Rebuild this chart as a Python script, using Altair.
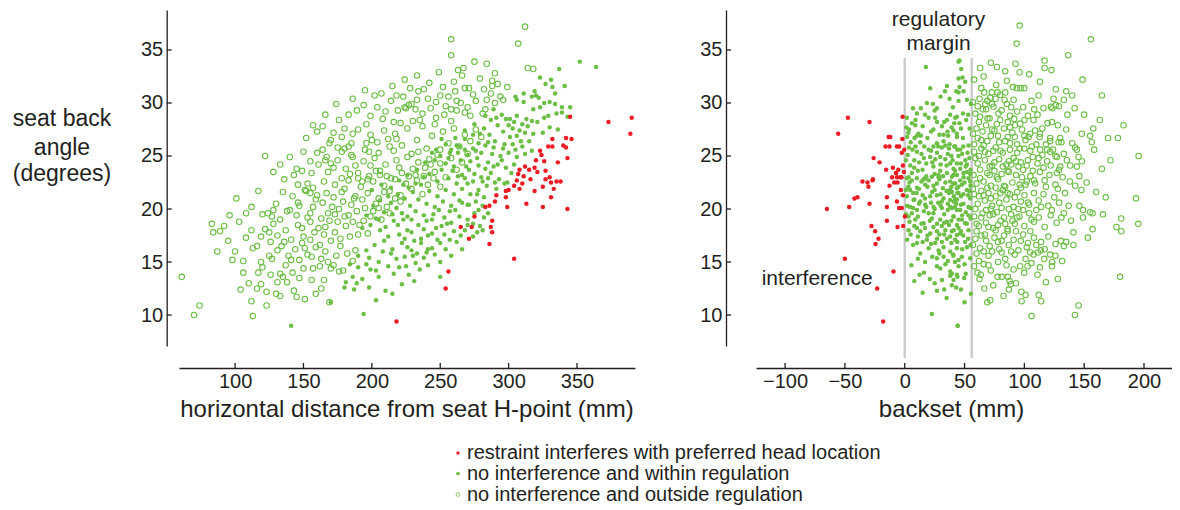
import altair as alt
import pandas as pd

RED = "#ed1c24"
GREEN = "#6cbe45"
TXT = "#231f20"
FONT = "Liberation Sans"

# ---------------- data ----------------
# left panel: horizontal distance from seat H-point (mm), seat back angle (deg)
left_red = [(373,28.2),(390,28.6),(389,27.1),(345,28.7),(332,26.6),(342,26.7),(346,26.6),(323,25.5),(324,25.1),(329,25.9),
    (332,25.9),(340,26.0),(342,25.8),(343,24.8),(320,24.6),(326,24.5),(336,24.4),(312,24.0),(319,23.9),(321,23.5),(327,23.6),
    (307,23.3),(311,23.1),(306,22.7),(316,22.8),(310,22.4),(327,22.8),(308,23.7),(315,23.7),(330,23.0),(335,22.6),(304,22.2),
    (300,21.8),(308,21.9),(298,21.7),(291,21.3),(290,20.7),(298,21.1),(299,20.2),(283,20.2),(286,20.3),(313,20.5),(319,21.7),
    (325,22.1),(331,22.5),(333,21.9),(331,21.1),(325,20.2),(338,22.6),(343,20.0),(275,19.3),(288,18.9),(287,18.3),(288,17.8),
    (265,18.3),(273,18.3),(271,17.2),(286,16.7),(304,15.3),(256,14.1),(254,12.5),(218,9.4)]

left_within = [(352,33.9),(364,33.4),(337,33.2),(323,32.4),(327,31.8),(331,32.2),(332,31.5),(334,30.9),(319,31.1),(320,30.7),
    (341,31.6),(305,30.6),(311,30.9),(317,30.6),(322,30.5),(311,30.1),(306,30.3),(326,30.0),(330,30.1),(334,29.9),(323,29.6),
    (318,29.4),(339,29.6),(345,29.6),(295,28.9),(301,28.5),(306,28.8),(313,28.5),(317,28.3),(329,28.8),(335,29.0),(339,29.1),
    (343,28.7),(300,27.9),(303,27.6),(308,27.4),(296,27.3),(301,26.8),(306,26.9),(312,27.2),(318,27.1),(325,27.2),(330,27.7),
    (336,27.5),(315,26.4),(310,25.9),(305,25.6),(297,26.1),(290,26.4),(286,27.0),(282,27.6),(278,26.2),(274,25.7),(268,26.6),
    (264,25.9),(270,25.1),(280,25.3),(288,25.2),(294,25.0),(300,25.3),(306,24.9),(312,25.2),(317,25.5),(285,24.4),(292,24.2),
    (298,23.9),(304,24.2),(278,24.1),(271,23.7),(266,23.2),(260,24.0),(256,24.8),(251,23.7),(246,24.6),(242,23.3),(248,22.6),
    (256,22.9),(262,22.4),(268,22.9),(274,22.6),(280,23.0),(287,23.4),(293,22.8),(299,22.5),(284,22.2),(278,21.8),(291,21.9),
    (272,21.4),(266,21.9),(260,21.4),(254,21.8),(248,21.2),(242,21.7),(236,22.3),(230,21.6),(234,20.9),(240,20.5),(246,20.2),
    (252,20.7),(258,20.3),(264,20.8),(270,20.4),(276,20.7),(282,21.1),(224,21.0),(228,20.3),(222,19.6),(216,18.9),(218,20.1),
    (226,19.3),(232,19.8),(238,19.4),(244,19.0),(251,18.4),(255,18.6),(258,18.7),(264,19.3),(268,18.0),(278,19.9),(275,19.6),
    (271,20.4),(223,19.0),(229,19.0),(234,18.5),(240,18.9),(214,20.6),(209,19.7),(203,19.1),(206,18.0),(212,17.4),(220,17.6),
    (226,18.0),(229,17.8),(222,16.8),(226,16.4),(229,16.1),(236,17.2),(236,16.8),(241,17.5),(244,17.7),(248,17.1),(253,17.6),
    (260,17.9),(262,16.9),(254,16.2),(246,15.7),(240,15.9),(233,15.8),(230,15.6),(224,15.5),(218,15.3),(212,14.6),(205,15.0),
    (198,15.4),(199,14.3),(193,13.4),(186,13.6),(181,13.1),(190,14.5),(196,16.1),(202,16.6),(209,17.0),(215,16.2),(225,14.6),
    (227,13.8),(241,14.7),(235,14.3),(210,12.3),(180,12.6),(187,12.4),(194,10.1),(141,9.0),(170,11.2),(200,21.8),(207,22.3),
    (214,22.0),(220,22.7),(226,23.2),(233,23.7),(239,24.4),(247,25.6),(254,26.1),(261,26.7),(268,27.4),(275,28.0),(283,28.8),
    (289,29.4),(292,27.9),(287,28.4),
    (245,19.5),(249,19.9),(253,19.2),(257,19.8),(261,19.9),(266,20.6),(270,19.0),(274,18.6),(279,18.4),(282,19.2),(285,19.6),
    (281,20.3),(277,21.4),(270,22.4),(263,23.1),(259,23.6),(254,24.3),(250,25.0),(258,25.6),(265,24.6),(272,24.5),(277,24.8),
    (283,23.8),(289,24.0),(295,24.6),(302,23.4),(297,22.4),(290,22.5),(285,22.9),(281,22.6),(275,23.3),(269,24.0),(263,25.3),
    (268,25.6),(276,25.5),(283,26.0),(289,25.8),(296,25.7),(303,26.1),(309,26.4),(314,27.8),(321,28.2),(326,28.6),(310,28.0),
    (304,28.2),(298,28.5),(291,28.6),(285,26.3),(279,27.1),(274,27.0),(262,26.0),(257,25.3),(251,26.6),(244,25.3),(238,23.0),
    (232,22.4),(227,22.0),(223,22.3),(219,21.4),(212,21.2),(206,20.8),(201,20.3),(196,19.4),(193,18.2),(199,18.5),(205,19.0),
    (210,18.3),(215,19.5),(219,18.5),(224,17.2),(231,17.0),(238,18.1),(247,18.2),(250,16.8),(257,17.1),(265,17.5),(270,18.5),
    (277,17.8),(281,18.0),(274,17.4),(266,16.2),(258,15.6),(250,15.0),(244,16.3),(238,15.4),(232,14.9),(220,14.5),(214,15.8),
    (208,16.0),(203,14.2),(196,14.8),(190,15.6),(184,14.8),(189,13.0),(198,12.6),(205,13.6),(216,13.9),(222,12.9),(231,13.2),
    (215,12.0),(203,11.4),(241,16.2),(250,13.6)]

left_outside = [(312,37.2),(258,36.0),(307,35.6),(258,34.5),(275,33.9),(284,33.7),(263,33.1),(267,33.3),(314,33.3),(318,33.2),
    (224,32.2),(202,30.7),(218,30.7),(225,29.5),(227,29.8),(260,32.0),(290,32.8),(288,32.1),(288,31.6),(268,31.4),(271,31.4),
    (234,31.1),(238,31.3),(282,31.3),(294,30.6),(299,31.5),(250,30.7),(241,30.4),(284,30.3),(290,30.0),(262,30.2),(276,30.2),
    (254,29.7),(243,29.5),(258,29.4),(224,29.6),(229,29.9),(232,29.4),(235,28.4),(216,28.2),(221,28.1),(281,29.0),(272,28.8),
    (262,29.3),(247,28.6),(253,28.9),(268,29.1),(157,27.9),(180,27.6),(186,27.1),(152,26.7),(169,26.2),(122,25.0),(145,23.8),
    (164,25.6),(180,25.7),(178,25.4),(183,25.9),(167,24.9),(170,24.3),(166,24.6),(200,26.5),(204,26.3),(212,26.6),(218,26.6),
    (196,26.2),(172,27.2),(178,26.8),(185,26.2),(190,27.5),(195,25.6),(199,27.0),(205,25.3),(209,27.4),(213,25.9),(217,27.1),
    (222,26.0),(226,27.6),(229,25.2),(233,26.5),(237,27.8),(240,25.7),(244,26.9),(248,25.1),(252,27.3),(256,26.2),(260,27.6),
    (264,25.9),(268,27.0),(272,26.4),(276,27.5),(280,26.8),(246,28.0),(258,28.3),(230,28.3),(208,28.5),(196,28.0),(175,24.6),
    (181,23.8),(186,24.9),(190,23.4),(194,24.5),(198,23.1),(202,24.8),(206,23.6),(210,24.2),(214,22.9),(218,24.6),(222,23.4),
    (226,24.9),(230,23.8),(234,24.4),(238,23.1),(242,24.7),(246,23.5),(250,24.3),(254,23.0),(258,24.8),(262,23.7),(266,24.4),
    (270,25.2),(250,25.6),(234,25.4),(216,25.5),(198,25.4),(185,25.1),(173,22.3),(178,21.6),(183,22.7),(188,21.2),(192,22.1),
    (197,21.5),(201,22.6),(205,21.0),(209,22.2),(213,21.7),(217,22.8),(221,21.3),(225,22.4),(229,21.9),(233,22.7),(237,21.4),
    (241,22.3),(245,22.9),(250,22.1),(206,23.2),(190,22.9),(142,21.2),(147,20.3),(151,21.8),(155,19.6),(159,20.9),(163,19.1),
    (167,21.5),(171,20.2),(175,18.8),(179,20.7),(183,19.4),(187,21.0),(191,18.5),(195,20.1),(199,19.3),(203,20.5),(207,19.0),
    (211,20.2),(157,22.0),(165,22.6),(146,22.3),(135,21.6),(138,19.8),(130,20.5),(152,21.7),(146,20.6),(155,21.5),(153,22.4),
    (140,19.9),(133,19.0),(137,18.0),(141,17.1),(149,16.8),(146,18.5),(150,17.4),(134,16.5),(61,13.6),(74,10.9),(70,10.0),
    (101,21.0),(83,18.6),(84,17.8),(92,18.4),(89,17.9),(108,17.3),(106,15.1),(113,9.9),(112,11.3),(117,14.0),(119,15.0),
    (120,14.5),(116,16.5),(119,17.4),(122,18.1),(125,17.8),(126,16.9),(120,19.5),(127,19.3),(128,19.9),(124,19.6),(125,15.6),
    (127,15.3),(123,12.2),(130,12.0),(133,11.8),(131,13.1),(133,13.9),(135,13.6),(139,15.6),(141,15.2),(137,14.7),(143,12.3),
    (145,11.7),(151,11.5),(147,13.5),(163,12.5),(169,11.2),(156,13.3),(165,13.3),(153,15.7),(156,15.5),(163,15.3),(170,14.4),
    (172,14.7),(168,15.0),(179,14.2),(100,16.0),(113,16.3),(106,14.0),(110,13.0),(116,12.5),(95,17.0),(103,18.8),(112,18.0),
    (131,17.5),(158,17.8),(162,16.6),(170,17.0),(177,16.5),(184,17.4),(188,16.1),(155,18.8),(166,18.3),(173,19.5),(181,18.4),
    (176,28.4),(183,28.9),(189,29.3),(194,29.8),(199,28.8),(204,29.6),(210,29.2),(214,30.2),(219,29.3),(223,30.6),(228,31.4),
    (233,30.3),(237,29.0),(242,31.9),(247,30.1),(252,31.5),(256,30.6),(261,31.1),(265,30.0),(270,29.6),(274,30.8),(279,32.3),
    (283,29.4),(287,30.9),(292,31.8),(296,30.3),(266,32.6),(249,32.9),(233,32.6),(215,31.6),(207,30.9),(195,31.2),(186,30.4),
    (174,29.9),(166,28.9),(160,27.3),(164,27.8),(170,26.5),(175,25.8),(160,25.3),(155,24.5),(150,25.4),(140,24.9),(133,24.2),
    (128,23.5),(136,22.8),(143,23.2),(149,23.6),(156,23.4),(161,24.2),(168,23.5),(172,23.9),(178,22.9),(184,23.3),(188,24.1),
    (193,22.6),(199,24.1),(203,23.6),(211,23.1),(220,23.9),(227,23.1),(232,23.2),(239,23.9),(243,24.2),(160,21.3),(164,20.6),
    (168,19.6),(172,21.1),(176,20.0),(180,21.9),(185,20.4),(189,19.8),(193,20.9),(197,22.8),(201,19.8),(205,20.1),(209,21.6),
    (213,19.6),(217,21.0),(221,20.7),(161,18.2),(165,17.6),(169,18.9),(173,17.8),(177,17.2),(180,19.3),(186,18.8),(190,17.6),
    (194,18.9),(197,17.7),(145,19.4),(149,18.2),(153,19.2),(157,20.2),(144,16.2),(147,15.2),(151,16.3),(155,17.1),(159,16.4),
    (162,14.6),(166,16.0),(174,15.6),(176,14.1),(182,15.8),(186,15.1),(128,18.6),(131,16.1),(136,16.9),(138,13.1),(142,14.0),
    (112,20.2),(117,21.7),(108,19.6),(96,19.4),(87,16.0),(98,15.2),(104,12.4),(119,12.9),(126,13.8),(123,10.9),(159,12.0),
    (150,14.4),(157,14.4)]

# right panel: backset (mm), seat back angle (deg)
right_red = [(-65,20.0),(-46.4,20.2),(-42,21.0),(-39.5,21.1),(-35.3,22.6),(-31.1,22.5),(-26.9,22.7),(-30.3,22.1),(-29.4,20.5),
    (-14.9,21.1),(-14.9,20.2),(-14.9,18.9),(-12.7,22.2),(-6.5,20.7),(-4.7,20.1),(-2.4,20.1),(-6,18.3),(-1.3,18.4),(0.2,19.3),
    (-8.8,22.5),(-6,22.5),(-3.8,23.0),(-7.1,23.4),(-1.5,21.3),(-3.2,21.8),(-27.8,18.4),(-24.7,17.9),(-21.9,17.2),(-24.4,16.7),
    (-50,15.3),(-9.4,14.1),(-23,12.5),(-18,9.4),(-47.5,28.6),(-29.4,28.2),(-55.6,27.1),(-1.8,28.7),(-13.4,26.8),(-12,26.8),
    (-16,25.9),(-12.7,25.9),(-6.5,25.9),(-4.6,25.9),(-2,26.6),(-0.4,25.6),(-2.4,25.3),(-26,24.8),(-21,24.4),(-15.5,23.7),
    (-9.9,23.9),(-5.4,23.7),(-1.5,24.1),(-7.4,23.4),(-10.5,23.0),(-6.5,23.0),(-2.7,23.0),(-0.7,23.5),(-26.6,22.8)]

right_within = [(17.7,33.4),(21.3,31.4),(35.3,31.6),(33.6,31.1),(45,33.9),(45,32.3),(45.8,31.5),(45,31.0),(37.5,30.4),
    (6.9,29.5),(13.5,29.5),(10.2,29.0),(18.5,30.0),(23.6,29.9),(25,29.3),(26.9,29.5),(19.9,28.6),(1.8,28.6),(1.3,27.7),
    (8.8,27.9),(3.5,27.5),(11.5,27.1),(13.5,26.9),(8.2,26.7),(10.2,26.9),(25.5,28.6),(35.3,28.4),(31.1,27.8),(41.4,28.1),
    (39.1,27.7),(35.8,27.3),(43.6,28.7),(45.8,28.1),(29,27.0),(32.5,27.0),(36.2,26.9),(24,25.9),(26.9,26.2),(32.4,26.4),
    (37.5,26.1),(41.4,25.9),(43.6,26.8),(6.5,25.6),(10.2,25.4),(16.3,25.9),(4.6,24.1),(7.9,23.9),(14.9,23.7),(21.3,24.9),
    (25.5,24.7),(29.7,24.9),(33.9,24.7),(38,24.3),(24,24.0),(29.7,23.6),(35.3,23.4),(40.8,23.8),(43.6,24.3),(45,25.0),
    (28.3,23.0),(17.1,22.9),(10.2,22.9),(3.2,23.0),
    (45.8,34.0),(47.2,33.2),(48.3,32.4),(50.6,32.0),(49.2,31.1),(52,30.3),(43.1,31.1),(45,30.2),(40.3,29.6),(55.3,29.9),
    (42.2,28.6),(48.7,29.0),(51.4,28.4),(40.8,27.4),(54.2,27.6),(43.6,27.1),(48.7,26.7),(53.3,26.0),(42.2,25.9),(46.4,25.6),
    (52.5,25.3),(50.6,24.6),(46.4,23.8),(52,23.5),(40.8,23.2),(49.2,23.0),(54.8,23.3),
    (1.8,22.9),(6.0,22.7),(15.8,22.8),(22.7,23.05),(28.3,23.2),(38,22.6),(42.2,22.4),(46.4,22.7),(4.6,21.8),(10.2,22.0),
    (17.1,22.3),(24.1,22.2),(31.9,21.95),(38,21.8),(43.6,21.95),(1.8,21.2),(7.4,20.85),(13,20.7),(21.3,21.2),(26.9,21.3),
    (32.5,21.0),(38,20.85),(43.6,20.9),(4.6,20.2),(10.2,19.9),(17.1,20.4),(24.1,20.2),(31.1,20.1),(38,20.2),(43.6,19.9),
    (3.2,19.3),(8.8,19.0),(15.8,18.65),(22.7,19.1),(29.7,19.0),(35.3,18.8),(40.8,19.3),(45,19.0),(3.2,18.0),(10.2,18.2),
    (21.3,17.7),(26.9,17.9),(33.9,18.0),(38,17.4),(43.6,17.55),(10.2,16.8),(18.5,17.1),(25.5,16.8),(31.1,16.9),(35.3,17.2),
    (28.3,16.1),(32.5,16.4),(38,16.0),(43.6,16.3),(13,15.8),(26.9,15.35),(32.5,15.5),(40.3,15.7),(45,15.2),(5.5,14.7),
    (12.4,13.8),(26.9,14.6),(29.7,14.4),(38,14.1),(43.6,13.8),(31.1,13.3),(38,13.7),(40.8,13.3),(26.9,12.3),(33,12.4),
    (39.4,12.8),(22.7,10.1),(44.2,9.0),
    (39.4,23.05),(43.6,23.2),(49.1,23.4),(53.3,22.9),(40.8,22.4),(47.8,22.3),(54.7,22.6),(39.4,21.6),(45,21.5),(51.9,21.8),
    (42.2,20.85),(49.1,20.5),(54.7,21.0),(39.4,20.1),(46.4,19.9),(53.3,20.2),(40.8,19.3),(47.8,19.0),(53.3,19.4),(43.6,18.5),
    (50.5,18.65),(39.4,17.9),(46.4,17.7),(53.3,18.0),(42.2,17.1),(50.5,16.9),(40.8,15.6),(47.8,15.5),(54.7,15.35),(45,14.6),
    (39.4,13.9),(44.1,13.6),(49.7,13.5),(43,12.6),(55.3,12.0),(50,11.2),(44.4,9.0),
    (2.5,25.1),(5,26.3),(8,24.6),(12,24.4),(14,25.2),(18,24.3),(19,26.7),(22,25.5),(27,25.3),(31,25.8),(34,26.0),(36,25.2),
    (39,25.0),(48,25.2),(51,24.0),(54,24.8),(3,22.1),(7,21.5),(12,21.9),(15,21.3),(19,22.1),(23,21.6),(27,22.4),(30,21.4),
    (34,22.5),(37,21.5),(41,21.2),(45,22.1),(49,21.4),(53,21.3),(55,22.2),(2,20.3),(6,19.6),(12,20.5),(16,19.8),(20,19.6),
    (25,20.0),(28,20.6),(33,19.5),(36,20.5),(42,20.2),(47,20.4),(51,19.7),(55,20.1),(5,17.6),(8,18.4),(13,17.9),(17,18.2),
    (24,18.3),(29,17.6),(31,18.4),(37,18.5),(41,18.0),(49,17.5),(53,17.2),(20,16.3),(23,15.5),(36,15.1),(48,16.2),(55,16.6),
    (16,14.0),(21,13.4),(34,14.8),(51,13.9),(2,26.8),(15,27.8),(22,27.3),(27,28.2),(6,28.1),(30,30.6),
    (1,24.6),(3.5,25.8),(6,23.4),(9,25.9),(11,23.6),(13,26.3),(16,24.8),(18,23.1),(20,25.6),(23,24.4),(25,23.3),(28,25.9),
    (30,24.2),(32,23.1),(35,24.1),(37,25.7),(40,24.6),(42,23.6),(44,25.6),(47,24.3),(49,25.9),(52,24.2),(55,23.7),(1,21.8),
    (4,22.5),(8,20.9),(10,21.5),(14,22.6),(17,21.0),(20,22.7),(22,20.6),(25,21.8),(29,22.8),(31,20.7),(35,21.7),(39,22.1),
    (41,20.7),(44,21.5),(47,21.2),(50,22.5),(54,21.7),(1,19.5),(4,18.8),(7,20.1),(11,19.3),(14,18.6),(18,20.2),(21,18.9),
    (24,19.6),(27,18.6),(30,20.3),(33,18.7),(36,19.9),(39,18.9),(43,20.5),(45,18.2),(48,19.4),(52,18.6),(55,19.1),(2,17.1),
    (7,16.6),(11,17.4),(15,16.9),(19,17.5),(22,16.7),(27,17.2),(33,17.6),(39,16.8),(44,16.9),(47,17.9),(52,16.4),(3,27.2),
    (9,28.4),(17,28.9),(24,27.5),(33,28.2),(38,28.9),(47,27.6),(53,28.9),(11,15.3),(17,15.0),(29,15.8),(42,15.0),(50,14.8),
    (8,13.2),(25,13.0),(35,11.6),(47,12.4),(15,12.1)]

right_outside = [(96,37.3),(93.5,35.6),(155.6,36.0),(136.7,34.5),(116.9,34.0),(116.9,33.3),(122.7,33.1),(92.6,33.7),(96,32.9),
    (63.1,33.3),(77,33.4),(148.6,32.2),(85.4,32.1),(90.4,31.5),(93.7,31.4),(96.9,31.4),(99.9,31.4),(113,32.0),(126.3,31.3),
    (135,31.1),(140,30.7),(111.9,30.7),(164.8,30.7),(66.4,31.0),(72.8,31.0),(76.5,31.7),(77.6,31.0),(79.8,30.75),(62.5,30.4),
    (71.4,30.5),(83.4,30.3),(91,30.3),(124.4,30.4),(122.2,29.65),(123.3,29.5),(126.3,29.8),(128.9,29.7),(108.2,29.4),
    (65.3,29.4),(68.1,29.4),(74.2,29.65),(85.4,29.9),(89,29.6),(67.3,29.9),(70.9,28.55),(69.2,28.55),(79.8,28.4),(86.2,28.2),
    (91.5,28.5),(92.3,27.9),(96.5,28.05),(107.7,28.4),(119.4,28.1),(123,28.2),(78.4,29.0),(157.6,27.6),(182.9,27.9),
    (178.2,26.7),(195.5,25.0),(148,27.1),(156.4,26.3),(158.4,25.6),(142.5,25.8),(143.9,25.6),(145.3,24.9),(148.1,24.5),
    (164.8,23.8),(104.9,27.1),(103.5,26.8),(112.7,26.8),(121.6,26.7),(121.6,26.4),(130,26.7),(128.6,26.3),(106.3,25.9),
    (113.2,25.6),(121.6,25.4),(127.2,24.9),(135.5,24.6),(130,24.0),(138.3,24.1),(143.9,24.0),(127.2,23.4),
    (193.3,21.0),(195.2,18.6),(180,13.6),(177,18.3),(181,17.9),(181,19.1),(165.7,19.5),(153,17.3),(157,18.1),(142.5,22.2),
    (147.7,21.8),(146,20.3),(149,19.9),(149,19.2),(155,19.7),(157,19.6),(141,17.8),(141,16.6),(135,16.9),(130.5,17.0),
    (133,16.5),(131.6,15.1),(126,15.6),(123,14.6),(123.3,15.0),(145.3,10.9),(142.3,10.0),(106,9.9),(112,11.9),(114,11.3),
    (97.5,12.2),(97.7,11.3),(101,11.9),(82.6,11.8),(69,11.2),(71.5,11.4),(66.5,12.5),(62.5,13.4),(63.6,13.8),(60.8,14.0),
    (77.6,13.6),(81,13.6),(86.2,13.6),(87.6,13.2),(88.7,12.9),(87,12.4),(96.5,14.6),(102.7,14.6),(111,13.8),(113,14.5),
    (99.9,14.0),(116.6,15.3),(121.6,15.7),(113.8,16.1),(111.3,15.9),(107.7,15.7),(104.9,15.9),
    (60,27.6),(64,26.5),(68,27.9),(72,26.9),(75,27.4),(79,26.3),(83,27.6),(86,26.8),(90,27.2),(94,26.1),(98,27.5),(101,26.5),
    (58,26.1),(66,26.0),(88,26.2),(109,27.4),(115,27.6),(118,26.1),(62,28.2),(77,28.0),(135,27.5),(140,26.2),(59,29.0),(63,28.7),
    (58,25.4),(61,24.3),(64,25.7),(67,24.6),(70,25.2),(73,24.1),(76,25.8),(79,24.7),(82,25.3),(85,24.2),(88,25.6),(91,24.8),
    (94,25.3),(97,24.4),(100,25.7),(103,24.6),(107,24.9),(111,24.3),(115,25.1),(119,24.5),(124,25.6),(133,25.2),(62,25.0),
    (75,24.4),(87,24.5),(57.5,23.2),(60,22.4),(63,23.7),(66,22.6),(69,23.4),(72,22.2),(75,23.6),(78,22.8),(81,23.3),(84,22.1),
    (87,23.5),(90,22.5),(93,23.2),(96,22.3),(99,23.7),(102,22.6),(105,23.1),(109,22.4),(113,23.5),(117,22.7),(121,23.2),
    (126,22.3),(132,23.0),(138,22.6),(71,24.0),(95,24.0),(58,21.4),(61,20.5),(64,21.7),(67,20.8),(70,21.5),(73,20.3),(76,21.2),
    (79,20.6),(82,21.8),(85,20.9),(88,21.4),(91,20.2),(94,21.6),(97,20.7),(100,21.3),(104,20.4),(108,21.5),(112,20.8),
    (116,21.4),(120,20.3),(125,21.1),(129,20.6),(134,21.5),(69,22.0),(83,22.2),(58,19.3),(62,18.4),(65,19.6),(68,18.7),
    (71,19.4),(74,18.2),(77,19.7),(80,18.9),(83,19.2),(86,18.1),(89,19.5),(92,18.6),(96,19.3),(100,18.4),(104,19.6),(108,18.8),
    (112,19.2),(117,18.3),(122,19.4),(127,18.7),(133,19.6),(139,18.9),(72,20.0),(95,20.0),(59,17.2),(63,16.3),(67,17.6),
    (71,16.5),(75,17.3),(79,16.2),(83,17.5),(87,16.6),(91,17.1),(95,16.1),(99,17.6),(103,16.8),(108,17.3),(114,16.9),(120,17.4),
    (126,16.7),(60,15.8),(70,15.6),(81,15.9),(92,15.7),(102,16.4),(117,16.2),(58,14.6),(66,14.8),(72,14.2),(78,15.0),(85,14.7),
    (91,14.3),(106,14.9),(118,13.1),(74,12.8),(93,13.0),(128,13.4),
    (57,27.1),(59,24.8),(61,26.7),(63,22.9),(65,27.3),(67,25.4),(69,26.4),(71,23.2),(73,27.5),(74,25.5),(77,23.0),(78,26.9),
    (80,25.5),(82,24.0),(84,26.4),(86,23.6),(88,27.7),(89,24.2),(92,26.8),(93,24.5),(96,25.7),(98,23.0),(100,26.9),(102,24.1),
    (105,25.5),(107,23.6),(110,26.1),(112,24.8),(116,23.9),(119,25.6),(122,24.1),(126,25.0),(129,23.7),(131,26.3),(57,21.9),
    (59,20.0),(60,18.6),(62,21.2),(64,19.2),(66,21.3),(68,19.9),(70,18.3),(72,21.0),(74,19.5),(76,22.0),(78,18.5),(80,21.5),
    (81,20.1),(84,18.6),(86,21.5),(87,20.0),(90,18.9),(92,21.1),(94,19.2),(97,22.0),(99,19.9),(101,22.3),(103,20.6),(106,19.0),
    (108,22.7),(110,19.9),(114,20.2),(118,22.1),(123,19.9),(128,21.9),(131,19.2),(137,20.3),(57,16.6),(60,17.9),(62,15.1),
    (64,17.5),(66,16.0),(68,17.0),(70,14.7),(73,16.0),(76,18.0),(78,16.9),(81,17.0),(84,15.3),(86,17.9),(89,16.0),(93,17.9),
    (97,17.0),(101,15.3),(105,17.9),(110,16.6),(57,30.1),(61,29.7),(64,31.4),(69,30.2),(73,29.9),(76,30.4),(81,29.3),(84,31.0),
    (88,28.8),(94,29.2),(99,29.6),(103,28.8),(106,30.2),(111,28.9),(116,29.5),(58,32.2),(66,32.5),(72,33.8),(84,33.0),
    (104,32.7),(100,28.4),(113,27.1),(128,27.9),(136,28.9),(133,30.3),(142,29.5),(150,28.9),(146,23.1),(152,22.5),(160,21.6),
    (168,21.1),(172,24.6),(155,26.9),(163,28.4),(170,26.7)]

left_x_ticks = [100, 150, 200, 250, 300, 350]
right_x_ticks = [-100, -50, 0, 50, 100, 150, 200]
y_ticks = [10, 15, 20, 25, 30, 35]
regulation_lines = [0, 56]

legend_labels = ["restraint interferes with preferred head location",
                 "no interference and within regulation",
                 "no interference and outside regulation"]
y_title_lines = ["seat back", "angle", "(degrees)"]
left_x_title = "horizontal distance from seat H-point (mm)"
right_x_title = "backset (mm)"
annot_margin = ["regulatory", "margin"]
annot_interf = "interference"

# ---------------- helpers ----------------
def frame(points):
    return pd.DataFrame(points, columns=["x", "y"])

one = pd.DataFrame({"k": [0]})
W_L, W_R, H = 456, 416, 336

y_scale = alt.Scale(domain=[7.08, 38.77], nice=False, zero=False)
xl_scale = alt.Scale(domain=[59, 392.4], nice=False, zero=False)
xr_scale = alt.Scale(domain=[-124.3, 223.4], nice=False, zero=False)

def x_axis(vals):
    return alt.Axis(values=vals, ticks=False, tickSize=0, grid=False, offset=22, domainColor=TXT,
                    domainWidth=1.3, labelFont=FONT, labelFontSize=20, labelColor=TXT, labelPadding=3.5,
                    labelOverlap=False, labelFlush=False, title=None)

def y_axis(off):
    return alt.Axis(values=y_ticks, ticks=False, tickSize=0, grid=False, offset=off, domainColor=TXT,
                    domainWidth=1.3, labelFont=FONT, labelFontSize=20, labelColor=TXT, labelPadding=4,
                    labelOverlap=False, labelFlush=False, title=None)

def panel(red, within, outside, xscale, xticks, yoff):
    X = alt.X("x:Q", scale=xscale, axis=x_axis(xticks))
    Y = alt.Y("y:Q", scale=y_scale, axis=y_axis(yoff))
    o = alt.Chart(frame(outside)).mark_point(shape="circle", filled=False, size=30, strokeWidth=1.1,
                                              color=GREEN, opacity=1).encode(x=X, y=Y)
    w = alt.Chart(frame(within)).mark_circle(size=20, color=GREEN, opacity=1).encode(x=X, y=Y)
    r = alt.Chart(frame(red)).mark_circle(size=20, color=RED, opacity=1).encode(x=X, y=Y)
    xt = alt.Chart(pd.DataFrame({"x": xticks})).mark_rule(color=TXT, strokeWidth=1.3).encode(
        x=X, y=alt.value(H + 22 - 5), y2=alt.value(H + 22))
    yt = alt.Chart(pd.DataFrame({"y": y_ticks})).mark_rule(color=TXT, strokeWidth=1.3).encode(
        y=Y, x=alt.value(-yoff), x2=alt.value(-yoff + 5))
    return o, w, r, xt, yt, X

def text(t, x, y, size=21, align="center", baseline="alphabetic"):
    return alt.Chart(one).mark_text(text=t, font=FONT, fontSize=size, color=TXT, align=align,
                                    baseline=baseline).encode(x=alt.value(x), y=alt.value(y))

# ---------------- left panel ----------------
lo, lw, lr, lxt, lyt, LX = panel(left_red, left_within, left_outside, xl_scale, left_x_ticks, 12.3)

bound = alt.Chart(one).mark_rule(opacity=0, strokeWidth=0).encode(
    x=alt.value(-171), x2=alt.value(993), y=alt.value(-2), y2=alt.value(492))

leg_x, leg_tx = 279, 288
leg_y = [443, 463.5, 484.5]
leg = [
    alt.Chart(one).mark_circle(size=12, color=RED, opacity=1).encode(x=alt.value(leg_x), y=alt.value(leg_y[0])),
    alt.Chart(one).mark_circle(size=14, color=GREEN, opacity=1).encode(x=alt.value(leg_x), y=alt.value(leg_y[1])),
    alt.Chart(one).mark_point(shape="circle", filled=False, size=14, strokeWidth=0.8, color=GREEN,
                              opacity=1).encode(x=alt.value(leg_x), y=alt.value(leg_y[2])),
]
leg_txt = [text(lbl, leg_tx, yy, size=20, align="left", baseline="middle") for lbl, yy in zip(legend_labels, leg_y)]

ytitle = [text(t, -117, yy, size=23) for t, yy in zip(y_title_lines, [116, 144.5, 171])]
lxtitle = text(left_x_title, W_L / 2, 407, size=24)

left = alt.layer(bound, lo, lw, lr, lxt, lyt, lxtitle, *ytitle, *leg, *leg_txt).properties(width=W_L, height=H)

# ---------------- right panel ----------------
ro, rw, rr, rxt, ryt, RX = panel(right_red, right_within, right_outside, xr_scale, right_x_ticks, 30)
reg = alt.Chart(pd.DataFrame({"x": regulation_lines})).mark_rule(color="#c9c9c9", strokeWidth=2.3).encode(
    x=RX, y=alt.value(48), y2=alt.value(348))
rxtitle = text(right_x_title, 195.5, 407, size=24)
ann = [text(annot_margin[0], 182.5, 15.5), text(annot_margin[1], 182.5, 39.5),
       text(annot_interf, 5.7, 274.5, align="left")]

right = alt.layer(reg, ro, rw, rr, rxt, ryt, rxtitle, *ann).properties(width=W_R, height=H)

chart = alt.hconcat(left, right, spacing=121, bounds="flush").properties(padding=0).configure_view(strokeWidth=0)

chart.save("out.html", embed_options={"renderer": "svg", "actions": False})
